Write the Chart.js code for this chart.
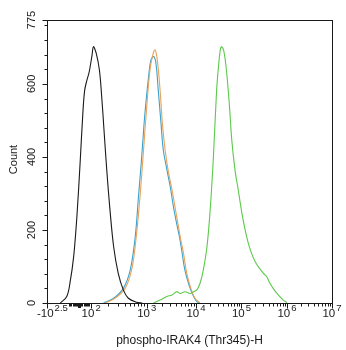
<!DOCTYPE html>
<html>
<head>
<meta charset="utf-8">
<script src="https://cdn.jsdelivr.net/npm/chart.js@4.4.1/dist/chart.umd.min.js"></script>
<style>
html,body{margin:0;padding:0;background:#fff;}
#wrap{width:346px;height:350px;}
</style>
</head>
<body>
<div id="wrap"><canvas id="c" width="346" height="350"></canvas></div>
<script>
// ---- Data (x in biexponential display units, y = count) ----
const xBlack  = [1.09,1.23,1.30,1.38,1.45,1.52,1.58,1.62,1.67,1.72,1.78,1.81,1.87,1.94,1.99,2.04,2.10,2.17,2.25,2.35,2.46,2.57,2.75,2.87];
const yBlack  = [0,18,55,127,236,383,520,583,611,634,679,702,684,638,565,474,364,255,154,81,36,13,2,0];

const xBlue   = [2.03,2.25,2.46,2.61,2.72,2.79,2.86,2.93,3.01,3.06,3.12,3.17,3.22,3.28,3.33,3.41,3.48,3.55,3.62,3.68,3.73,3.80,3.90,3.99,4.06,4.12];
const yBlue   = [0,13,40,90,182,291,400,519,620,665,675,656,583,492,419,364,319,264,218,182,145,90,45,18,4,0];

const xOrange = [2.07,2.28,2.50,2.65,2.75,2.83,2.90,2.97,3.04,3.10,3.15,3.20,3.26,3.31,3.37,3.44,3.52,3.59,3.66,3.71,3.77,3.84,3.93,4.02,4.13];
const yOrange = [0,13,40,96,192,301,419,538,638,679,693,665,583,492,419,360,310,259,209,173,136,81,40,13,0];

const xGreen  = [3.12,3.26,3.41,3.52,3.62,3.70,3.80,3.91,3.99,4.06,4.13,4.20,4.28,4.35,4.42,4.49,4.53,4.57,4.60,4.65,4.71,4.77,4.82,4.89,4.96,5.04,5.11,5.18,5.25,5.33,5.40,5.51,5.58,5.65,5.72,5.83,5.94,6.02];
const yGreen  = [0,8,18,22,31,26,31,26,31,36,54,90,154,255,400,583,647,693,702,688,629,538,446,364,310,246,200,163,136,113,99,81,72,54,40,22,8,1];

// ---- Axis ticks ----
const xMin = 0.80, xMax = 7.00;
const xMajorTicks = [0.80, 1.76, 2.97, 4.04, 5.03, 6.02, 7.00];
const xMajorBase  = ['-10','10','10','10','10','10','10'];
const xMajorExp   = ['2.5','2','3','4','5','6','7'];
const xNearZeroTicks = [1.28,1.31,1.33,1.36,1.38,1.40,1.43,1.45,1.48,1.50,1.52,1.55,1.57,1.60,1.62,1.64,1.67,1.69,1.72];
const yMin = 0, yMax = 775;
const yMajorTicks = [0,200,400,600,775];
const yMinorStep = 40;
const xTitle = 'phospho-IRAK4 (Thr345)-H';
const yTitle = 'Count';

const toPts = (xs, ys) => xs.map((x, i) => ({x: x, y: ys[i]}));

const FONT = '"Liberation Sans", Arial, sans-serif';

const decor = {
  id: 'decor',
  afterDraw(chart) {
    const ctx = chart.ctx, a = chart.chartArea, xs = chart.scales.x, ys = chart.scales.y;
    ctx.save();
    ctx.strokeStyle = '#1a1a1a';
    ctx.fillStyle = '#1a1a1a';
    ctx.lineWidth = 1;
    // frame
    ctx.strokeRect(a.left + 0.5, a.top + 0.5, a.right - a.left, a.bottom - a.top);
    const by = a.bottom + 0.5;
    const tick = (px, len) => {
      const X = Math.round(px) + 0.5;
      ctx.beginPath(); ctx.moveTo(X, by); ctx.lineTo(X, by + len); ctx.stroke();
    };
    // x major ticks
    xMajorTicks.forEach(v => tick(xs.getPixelForValue(v), 5));
    // x log minor ticks between decades (from 10^2 on)
    for (let i = 1; i < xMajorTicks.length - 1; i++) {
      const p0 = xMajorTicks[i], p1 = xMajorTicks[i + 1];
      for (let k = 2; k <= 9; k++) tick(xs.getPixelForValue(p0 + (p1 - p0) * Math.log10(k)), 3);
    }
    xNearZeroTicks.forEach(v => tick(xs.getPixelForValue(v), 3));
    ctx.fillRect(Math.round(xs.getPixelForValue(1.50)) - 1, a.bottom + 1, 3, 4);
    // y ticks
    const lx = a.left + 0.5;
    const ytick = (v, len) => {
      const Y = Math.round(ys.getPixelForValue(v)) + 0.5;
      ctx.beginPath(); ctx.moveTo(lx - len, Y); ctx.lineTo(lx, Y); ctx.stroke();
    };
    for (let v = 0; v <= yMax; v += yMinorStep) ytick(v, 3);
    yMajorTicks.forEach(v => ytick(v, 5));

    // x tick labels with superscripts
    ctx.textBaseline = 'alphabetic';
    ctx.textAlign = 'left';
    xMajorTicks.forEach((v, i) => {
      ctx.font = '11.5px ' + FONT;
      const wb = ctx.measureText(xMajorBase[i]).width;
      ctx.font = '9.5px ' + FONT;
      const we = ctx.measureText(xMajorExp[i]).width;
      let left = xs.getPixelForValue(v) - (wb + we + 1) / 2;
      if (left < 37) left = 37;
      ctx.font = '11.5px ' + FONT;
      ctx.fillText(xMajorBase[i], left, 317);
      ctx.font = '9.5px ' + FONT;
      ctx.fillText(xMajorExp[i], left + wb + 1, 311);
    });
    // y tick labels rotated
    ctx.font = '11px ' + FONT;
    ctx.textAlign = 'center';
    yMajorTicks.forEach(v => {
      ctx.save();
      ctx.translate(35, ys.getPixelForValue(v));
      ctx.rotate(-Math.PI / 2);
      ctx.fillText(String(v), 0, 0);
      ctx.restore();
    });
    // axis titles
    ctx.font = '12px ' + FONT;
    ctx.textAlign = 'center';
    ctx.fillText(xTitle, (a.left + a.right) / 2, 344);
    ctx.save();
    ctx.font = '11px ' + FONT;
    ctx.translate(17, (a.top + a.bottom) / 2 - 2);
    ctx.rotate(-Math.PI / 2);
    ctx.fillText(yTitle, 0, 0);
    ctx.restore();
    ctx.restore();
  }
};

const ds = (label, xsA, ysA, color) => ({
  label: label,
  data: toPts(xsA, ysA),
  borderColor: color,
  backgroundColor: color,
  borderWidth: 1.1,
  pointRadius: 0,
  tension: 0.35,
  fill: false
});

new Chart(document.getElementById('c'), {
  type: 'line',
  data: {
    datasets: [
      ds('green', xGreen, yGreen, '#5cc94b'),
      ds('black', xBlack, yBlack, '#1a1a1a'),
      ds('orange', xOrange, yOrange, '#e8a35c'),
      ds('blue', xBlue, yBlue, '#3aa2cc')
    ]
  },
  options: {
    responsive: false,
    animation: false,
    devicePixelRatio: 1,
    parsing: true,
    layout: {padding: {left: 47, right: 14, top: 20, bottom: 47}},
    plugins: {legend: {display: false}, tooltip: {enabled: false}},
    scales: {
      x: {type: 'linear', min: xMin, max: xMax, display: false},
      y: {type: 'linear', min: yMin, max: yMax, display: false}
    }
  },
  plugins: [decor]
});
</script>
</body>
</html>
